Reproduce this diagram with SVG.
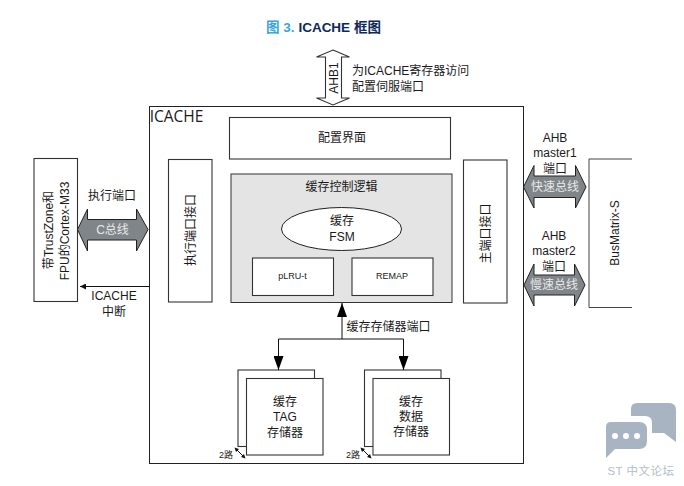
<svg xmlns="http://www.w3.org/2000/svg" width="684" height="486" viewBox="0 0 684 486">
<style>
text{font-family:"Liberation Sans","Noto Sans CJK SC",sans-serif;fill:#1a1a1a;text-anchor:middle}
.t{font-size:12px}
.st{font-size:12px;text-anchor:start}
.s{font-size:9px}
.b{fill:#fff;stroke:#333;stroke-width:1.100}
.a{fill:#80858a;stroke:#222;stroke-width:1}
.w{fill:#e8e8e8;font-size:12px}
.l{fill:none;stroke:#111;stroke-width:1}
</style>
<defs>
<marker id="big" markerWidth="14" markerHeight="10" refX="14" refY="5" orient="auto" markerUnits="userSpaceOnUse"><path d="M0 0L14 5L0 10Z" fill="#000"/></marker>
<marker id="small" markerWidth="6" markerHeight="6" refX="6" refY="3" orient="auto" markerUnits="userSpaceOnUse"><path d="M0 0L6 3L0 6Z" fill="#111"/></marker>
</defs>
<text x="323.500" y="32" style="font-size:13.500px;font-weight:bold;fill:#0b2a5b"><tspan fill="#3aa6dc">图 3.</tspan> ICACHE 框图</text>

<g id="icache"><rect x="149.500" y="106.500" width="374" height="357" fill="#fff" stroke="#222"/><text x="176.500" y="122" style="font-size:15.500px;font-family:'Open Sans','Liberation Sans',sans-serif">ICACHE</text></g>

<g id="ahb1"><path class="b" d="M333 50L349.500 57H341.500V98H349.500L333 105L316.500 98H325.500V57H316.500Z"/><text class="t" transform="translate(338,78) rotate(-90)">AHB1</text></g>
<g id="ahb1-label"><text class="st" x="352" y="75">为ICACHE寄存器访问</text><text class="st" x="352" y="91">配置伺服端口</text></g>

<g id="config"><rect class="b" x="229.500" y="117.500" width="221" height="41.500"/><text class="t" x="342" y="142">配置界面</text></g>
<g id="exec-if"><rect class="b" x="168.500" y="159.500" width="43.500" height="142.500"/><text class="t" transform="translate(195,230) rotate(-90)">执行端口接口</text></g>
<g id="main-if"><rect class="b" x="463.500" y="160" width="43.500" height="143"/><text class="t" transform="translate(490,233.500) rotate(-90)">主端口接口</text></g>
<g id="ctrl"><rect x="231" y="174" width="221" height="128.500" fill="#e4e4e4" stroke="#333"/><text class="t" x="341.500" y="191">缓存控制逻辑</text></g>
<g id="fsm"><ellipse cx="341.500" cy="229" rx="60" ry="21.500" fill="#fff" stroke="#222"/><text class="t" x="342" y="225">缓存</text><text class="t" x="342" y="241">FSM</text></g>
<g id="plru"><rect class="b" x="252.500" y="258" width="81" height="37.500"/><text class="s" x="292.500" y="279">pLRU-t</text></g>
<g id="remap"><rect class="b" x="352" y="258" width="81" height="37.500"/><text class="s" x="392" y="279">REMAP</text></g>

<g id="cpu"><rect class="b" x="34" y="158.500" width="43.500" height="143"/><text class="t" transform="translate(53,230) rotate(-90)">带TrustZone和</text><text class="t" transform="translate(69,231) rotate(-90)">FPU的Cortex-M33</text></g>
<g id="busmatrix"><path d="M632 159H589V307.500H632" fill="#fff" stroke="#444"/><text class="t" transform="translate(619,233) rotate(-90)">BusMatrix-S</text></g>

<g id="tag"><rect class="b" x="238" y="370" width="76.500" height="76.500"/><rect class="b" x="246.500" y="378.500" width="76.500" height="76.500"/><text class="t" x="285" y="406">缓存</text><text class="t" x="285" y="421">TAG</text><text class="t" x="285" y="437">存储器</text><text class="s" x="226" y="458">2路</text></g>
<g id="data"><rect class="b" x="364.500" y="370" width="76.500" height="76.500"/><rect class="b" x="373" y="378.500" width="76.500" height="76.500"/><text class="t" x="411" y="406">缓存</text><text class="t" x="411" y="421">数据</text><text class="t" x="411" y="436">存储器</text><text class="s" x="353" y="458">2路</text></g>

<g id="connectors">
<path class="a" d="M77.500 229.500L87.500 209V219.500H136.500V209L148 229.500L136.500 251V240H87.500V251Z"/>
<path class="a" d="M523.500 187L534 165.500V176H575.500V165.500L586 187L575.500 208V197.500H534V208Z"/>
<path class="a" d="M524 285L534 264V275H574.500V264L585 285L574.500 306V295H534V306Z"/>
<path class="l" d="M149 286.500H80" marker-end="url(#small)"/>
<path class="l" d="M342 339V303" marker-end="url(#big)"/>
<path class="l" d="M342 339H278.500V370" marker-end="url(#big)"/>
<path class="l" d="M342 339H403.500V370" marker-end="url(#big)"/>
<path class="l" d="M235 448L245 458"/>
<path d="M234.500 447.500L239 449L236 452ZM245.500 458.500L241 457L244 454Z" fill="#111"/>
<path class="l" d="M361 448L371 458"/>
<path d="M360.500 447.500L365 449L362 452ZM371.500 458.500L367 457L370 454Z" fill="#111"/>
</g>
<g id="edge-labels">
<text class="t" x="112" y="200">执行端口</text>
<text class="w" x="112.500" y="234">C总线</text>
<text class="t" x="114" y="300">ICACHE</text><text class="t" x="114" y="316">中断</text>
<text class="t" x="555" y="142">AHB</text><text class="t" x="555" y="157">master1</text><text class="t" x="555" y="173">端口</text>
<text class="w" x="555" y="191">快速总线</text>
<text class="t" x="554" y="240">AHB</text><text class="t" x="554" y="255">master2</text><text class="t" x="554" y="271">端口</text>
<text class="w" x="554" y="289">慢速总线</text>
<text class="t" x="388.500" y="331">缓存存储器端口</text>
</g>
<g id="watermark">
<path d="M637 403H669Q676 403 676 410V442L664 433H652V423Q652 416 645 416H631V409Q631 403 637 403Z" fill="#a9b4c2"/>
<path d="M611 422H639Q647 422 647 430V441Q647 449 639 449H615L606 458V427Q606 422 611 422Z" fill="#a9b4c2"/>
<circle cx="615" cy="436" r="3" fill="#fff"/><circle cx="626" cy="436" r="3" fill="#fff"/><circle cx="637" cy="436" r="3" fill="#fff"/>
<text x="641" y="475" style="font-size:11.500px;fill:#b4bdc9;letter-spacing:.5px">ST 中文论坛</text>
</g>
</svg>
